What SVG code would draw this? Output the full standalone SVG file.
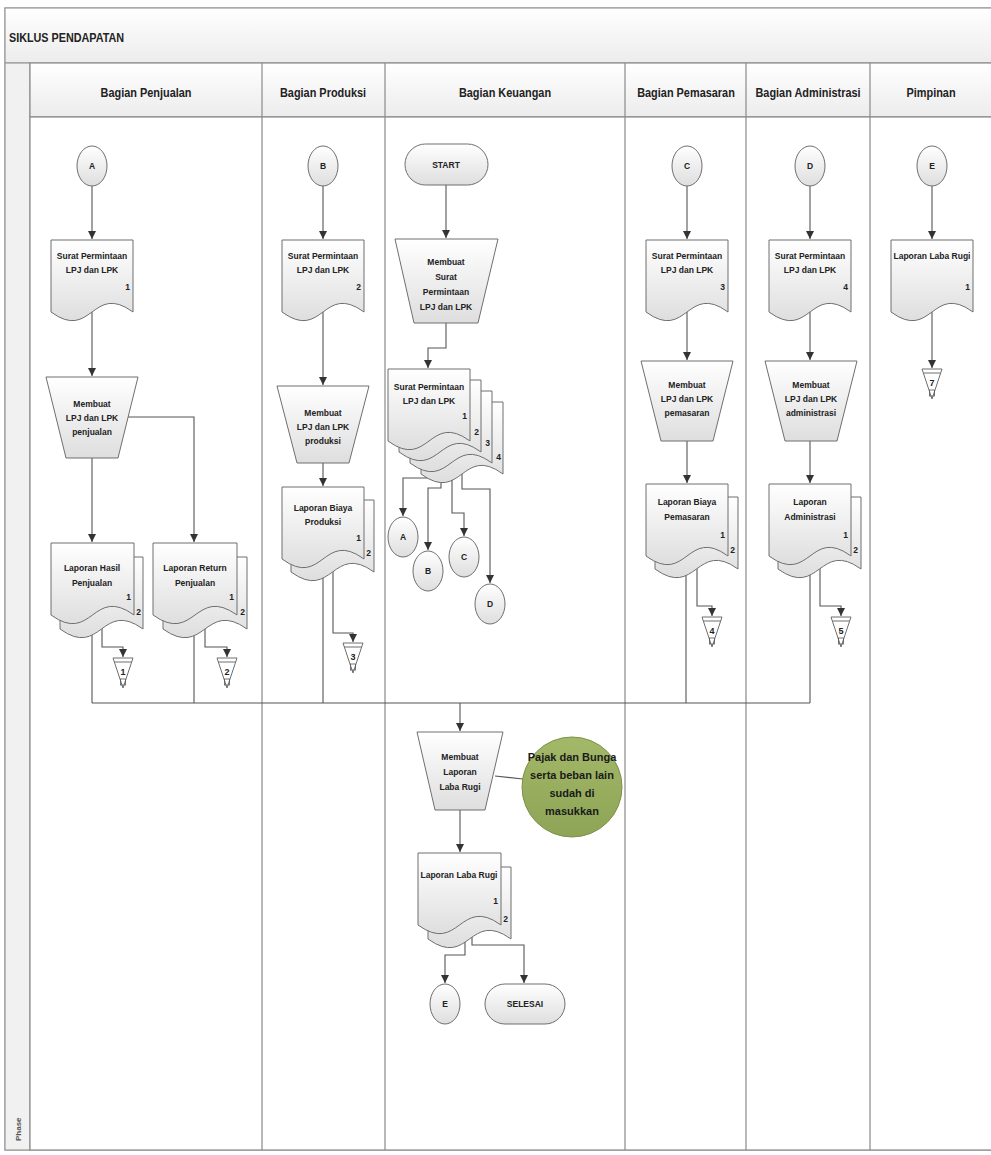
<svg xmlns="http://www.w3.org/2000/svg" width="991" height="1155" viewBox="0 0 991 1155">
<defs>
<linearGradient id="gShape" x1="0" y1="0" x2="0" y2="1"><stop offset="0" stop-color="#ffffff"/><stop offset="1" stop-color="#dedede"/></linearGradient>
<linearGradient id="gHead" x1="0" y1="0" x2="0" y2="1"><stop offset="0" stop-color="#ffffff"/><stop offset="1" stop-color="#ececec"/></linearGradient>
<linearGradient id="gGreen" x1="0" y1="0" x2="0" y2="1"><stop offset="0" stop-color="#a3b868"/><stop offset="1" stop-color="#8ea456"/></linearGradient>
<marker id="arr" markerUnits="userSpaceOnUse" markerWidth="9" markerHeight="9" refX="8" refY="4" orient="auto"><path d="M0,0 L8,4 L0,8 Z" fill="#333"/></marker>
<style>
.sh{fill:url(#gShape);stroke:#6f6f6f;stroke-width:1}
.cn{fill:none;stroke:#555;stroke-width:1.1}
.ar{marker-end:url(#arr)}
.lane{stroke:#8a8a8a;stroke-width:1.2;fill:none}
text{font-family:"Liberation Sans Narrow","Liberation Sans",Arial,sans-serif;font-weight:bold;fill:#222}
.t{font-size:8.5px;text-anchor:middle}
.n{font-size:8.5px;text-anchor:end}
.h{font-size:13px;text-anchor:middle}
.g{font-size:11px;text-anchor:middle;fill:#1a1a1a}
.st{stroke:#6f6f6f;stroke-width:1;fill:#fff}
</style>
</defs>
<rect x="0" y="0" width="991" height="1155" fill="#ffffff"/>
<g id="frame">
<rect x="5" y="8" width="990" height="1142" fill="#fafafa" stroke="#9a9a9a" stroke-width="1.2"/>
<rect x="5" y="8" width="990" height="55" fill="url(#gHead)" stroke="#9a9a9a" stroke-width="1.2"/>
<text transform="translate(9,42) scale(0.9,1)" style="font-size:12px">SIKLUS PENDAPATAN</text>
<rect x="5" y="63" width="25" height="1087" fill="#f1f1f1" stroke="#9a9a9a" stroke-width="1.2"/>
<text transform="translate(21,1141) rotate(-90)" style="font-size:8px;fill:#555">Phase</text>
<rect x="30" y="63" width="965" height="54" fill="url(#gHead)" stroke="#8a8a8a" stroke-width="1.2"/>
<rect x="30" y="117" width="965" height="1033" fill="#ffffff" stroke="#8a8a8a" stroke-width="1.2"/>
<path class="lane" d="M262,63 V1150 M385,63 V1150 M625,63 V1150 M746,63 V1150 M870,63 V1150"/>
<text class="h" transform="translate(146,97) scale(0.84,1)">Bagian Penjualan</text>
<text class="h" transform="translate(323,97) scale(0.84,1)">Bagian Produksi</text>
<text class="h" transform="translate(505,97) scale(0.84,1)">Bagian Keuangan</text>
<text class="h" transform="translate(686,97) scale(0.84,1)">Bagian Pemasaran</text>
<text class="h" transform="translate(808,97) scale(0.84,1)">Bagian Administrasi</text>
<text class="h" transform="translate(931,97) scale(0.84,1)">Pimpinan</text>
</g>

<g id="connectors">
<path class="cn ar" d="M92,186 V239"/>
<path class="cn ar" d="M92,312 V376"/>
<path class="cn ar" d="M128,417 H194 V542"/>
<path class="cn ar" d="M92,458 V542"/>
<path class="cn ar" d="M102,625 V647 H123 V657"/>
<path class="cn ar" d="M205,625 V647 H227 V657"/>
<path class="cn" d="M92,615 V703 M194,615 V703 M323,559 V703 M686,556 V703 M810,556 V703 M92,703 H810"/>
<path class="cn ar" d="M323,186 V239"/>
<path class="cn ar" d="M323,312 V385"/>
<path class="cn ar" d="M323,463 V486"/>
<path class="cn ar" d="M333,570 V633 H353 V642"/>
<path class="cn ar" d="M446,185 V238"/>
<path class="cn ar" d="M446,323 V348 H428 V368"/>
<path class="cn ar" d="M428,447 V478 H403 V516"/>
<path class="cn ar" d="M441,447 V488 H428 V550"/>
<path class="cn ar" d="M452,447 V513 H464 V536"/>
<path class="cn ar" d="M462,447 V489 H490 V583"/>
<path class="cn ar" d="M460,703 V731"/>
<path class="cn" d="M495,776 L523,779"/>
<path class="cn ar" d="M460,810 V852"/>
<path class="cn ar" d="M465,932 V955 H445 V983"/>
<path class="cn ar" d="M472,932 V945 H524 V983"/>
<path class="cn ar" d="M687,186 V239"/>
<path class="cn ar" d="M687,312 V360"/>
<path class="cn ar" d="M687,441 V483"/>
<path class="cn ar" d="M697,566 V606 H712 V616"/>
<path class="cn ar" d="M810,186 V239"/>
<path class="cn ar" d="M810,312 V360"/>
<path class="cn ar" d="M810,441 V483"/>
<path class="cn ar" d="M820,566 V606 H841 V616"/>
<path class="cn ar" d="M932,186 V239"/>
<path class="cn ar" d="M932,312 V368"/>
</g>

<!-- Penjualan -->
<g id="pj-A"><ellipse class="sh" cx="92" cy="166" rx="15" ry="20"/><text class="t" x="92" y="169">A</text></g>
<g id="pj-spm"><path class="sh" d="M51,240 H133 V312 C92,282 92,342 51,312 Z"/><text class="t" x="92" y="259">Surat Permintaan</text><text class="t" x="92" y="273">LPJ dan LPK</text><text class="n" x="130" y="290">1</text></g>
<g id="pj-proc"><path class="sh" d="M46,377 H138 L118,458 H66 Z"/><text class="t" x="92" y="407">Membuat</text><text class="t" x="92" y="421">LPJ dan LPK</text><text class="t" x="92" y="435">penjualan</text></g>
<g id="pj-lhp"><path class="sh" d="M60,557 H143 V629 C101.5,599 101.5,659 60,629 Z"/><path class="sh" d="M51,543 H134 V615 C92.5,585 92.5,645 51,615 Z"/><text class="t" x="92" y="571">Laporan Hasil</text><text class="t" x="92" y="586">Penjualan</text><text class="n" x="131" y="600">1</text><text class="n" x="141" y="615">2</text></g>
<g id="pj-lrp"><path class="sh" d="M163,557 H247 V629 C205,599 205,659 163,629 Z"/><path class="sh" d="M153,543 H237 V615 C195,585 195,645 153,615 Z"/><text class="t" x="195" y="571">Laporan Return</text><text class="t" x="195" y="586">Penjualan</text><text class="n" x="234" y="600">1</text><text class="n" x="245" y="615">2</text></g>
<g id="pj-f1"><path class="st" d="M113,658 H133 L123,688 Z M114.3,662 H131.7"/><text class="t" x="123" y="675" style="font-size:9px">1</text><rect x="120.5" y="679" width="5" height="6" fill="none" stroke="#555" stroke-width="0.8"/></g>
<g id="pj-f2"><path class="st" d="M217,658 H237 L227,688 Z M218.3,662 H235.7"/><text class="t" x="227" y="675" style="font-size:9px">2</text><rect x="224.5" y="679" width="5" height="6" fill="none" stroke="#555" stroke-width="0.8"/></g>

<!-- Produksi -->
<g id="pr-B"><ellipse class="sh" cx="323" cy="166" rx="15" ry="20"/><text class="t" x="323" y="169">B</text></g>
<g id="pr-spm"><path class="sh" d="M282,240 H364 V312 C323,282 323,342 282,312 Z"/><text class="t" x="323" y="259">Surat Permintaan</text><text class="t" x="323" y="273">LPJ dan LPK</text><text class="n" x="361" y="290">2</text></g>
<g id="pr-proc"><path class="sh" d="M277,386 H369 L349,463 H297 Z"/><text class="t" x="323" y="416">Membuat</text><text class="t" x="323" y="430">LPJ dan LPK</text><text class="t" x="323" y="444">produksi</text></g>
<g id="pr-lbp"><path class="sh" d="M291,500 H374 V572 C332.5,542 332.5,602 291,572 Z"/><path class="sh" d="M282,487 H364 V559 C323,529 323,589 282,559 Z"/><text class="t" x="323" y="511">Laporan Biaya</text><text class="t" x="323" y="525">Produksi</text><text class="n" x="361" y="541">1</text><text class="n" x="371" y="556">2</text></g>
<g id="pr-f3"><path class="st" d="M343,643 H363 L353,673 Z M344.3,647 H361.7"/><text class="t" x="353" y="660" style="font-size:9px">3</text><rect x="350.5" y="664" width="5" height="6" fill="none" stroke="#555" stroke-width="0.8"/></g>

<!-- Keuangan -->
<g id="ku-start"><rect class="sh" x="405" y="144" width="83" height="41" rx="20.5"/><text class="t" x="446" y="168">START</text></g>
<g id="ku-proc1"><path class="sh" d="M395,239 H498 L478,323 H414 Z"/><text class="t" x="446" y="265">Membuat</text><text class="t" x="446" y="280">Surat</text><text class="t" x="446" y="295">Permintaan</text><text class="t" x="446" y="310">LPJ dan LPK</text></g>
<g id="ku-spm"><path class="sh" d="M421,402 H503 V474 C462,444 462,504 421,474 Z"/><path class="sh" d="M410,391 H492 V463 C451,433 451,493 410,463 Z"/><path class="sh" d="M399,380 H481 V452 C440,422 440,482 399,452 Z"/><path class="sh" d="M388,369 H470 V441 C429,411 429,471 388,441 Z"/><text class="t" x="429" y="390">Surat Permintaan</text><text class="t" x="429" y="404">LPJ dan LPK</text><text class="n" x="467" y="419">1</text><text class="n" x="479" y="435">2</text><text class="n" x="490" y="446">3</text><text class="n" x="501" y="460">4</text></g>
<g id="ku-A"><ellipse class="sh" cx="403" cy="537" rx="15" ry="20"/><text class="t" x="403" y="540">A</text></g>
<g id="ku-B"><ellipse class="sh" cx="428" cy="571" rx="15" ry="20"/><text class="t" x="428" y="574">B</text></g>
<g id="ku-C"><ellipse class="sh" cx="464" cy="557" rx="15" ry="20"/><text class="t" x="464" y="560">C</text></g>
<g id="ku-D"><ellipse class="sh" cx="490" cy="604" rx="15" ry="20"/><text class="t" x="490" y="607">D</text></g>
<g id="ku-proc2"><path class="sh" d="M417,732 H503 L485,810 H435 Z"/><text class="t" x="460" y="760">Membuat</text><text class="t" x="460" y="775">Laporan</text><text class="t" x="460" y="790">Laba Rugi</text></g>
<g id="ku-note"><circle cx="572" cy="787" r="50" fill="url(#gGreen)" stroke="#7d9148" stroke-width="1"/><text class="g" x="572" y="761">Pajak dan Bunga</text><text class="g" x="572" y="779">serta beban lain</text><text class="g" x="572" y="797">sudah di</text><text class="g" x="572" y="815">masukkan</text></g>
<g id="ku-llr"><path class="sh" d="M428,867 H511 V939 C469.5,909 469.5,969 428,939 Z"/><path class="sh" d="M418,853 H501 V925 C459.5,895 459.5,955 418,925 Z"/><text class="t" x="459" y="878">Laporan Laba Rugi</text><text class="n" x="498" y="904">1</text><text class="n" x="508" y="922">2</text></g>
<g id="ku-E"><ellipse class="sh" cx="445" cy="1004" rx="15" ry="20"/><text class="t" x="445" y="1007">E</text></g>
<g id="ku-end"><rect class="sh" x="485" y="984" width="80" height="40" rx="20"/><text class="t" x="525" y="1007">SELESAI</text></g>

<!-- Pemasaran -->
<g id="pm-C"><ellipse class="sh" cx="687" cy="166" rx="15" ry="20"/><text class="t" x="687" y="169">C</text></g>
<g id="pm-spm"><path class="sh" d="M646,240 H728 V312 C687,282 687,342 646,312 Z"/><text class="t" x="687" y="259">Surat Permintaan</text><text class="t" x="687" y="273">LPJ dan LPK</text><text class="n" x="725" y="290">3</text></g>
<g id="pm-proc"><path class="sh" d="M641,361 H733 L713,441 H661 Z"/><text class="t" x="687" y="388">Membuat</text><text class="t" x="687" y="402">LPJ dan LPK</text><text class="t" x="687" y="416">pemasaran</text></g>
<g id="pm-lbp"><path class="sh" d="M655,497 H738 V569 C696.5,539 696.5,599 655,569 Z"/><path class="sh" d="M646,484 H728 V556 C687,526 687,586 646,556 Z"/><text class="t" x="687" y="505">Laporan Biaya</text><text class="t" x="687" y="520">Pemasaran</text><text class="n" x="725" y="538">1</text><text class="n" x="735" y="553">2</text></g>
<g id="pm-f4"><path class="st" d="M702,617 H722 L712,647 Z M703.3,621 H720.7"/><text class="t" x="712" y="634" style="font-size:9px">4</text><rect x="709.5" y="638" width="5" height="6" fill="none" stroke="#555" stroke-width="0.8"/></g>

<!-- Administrasi -->
<g id="ad-D"><ellipse class="sh" cx="810" cy="166" rx="15" ry="20"/><text class="t" x="810" y="169">D</text></g>
<g id="ad-spm"><path class="sh" d="M769,240 H851 V312 C810,282 810,342 769,312 Z"/><text class="t" x="810" y="259">Surat Permintaan</text><text class="t" x="810" y="273">LPJ dan LPK</text><text class="n" x="848" y="290">4</text></g>
<g id="ad-proc"><path class="sh" d="M765,361 H857 L837,441 H785 Z"/><text class="t" x="811" y="388">Membuat</text><text class="t" x="811" y="402">LPJ dan LPK</text><text class="t" x="811" y="416">administrasi</text></g>
<g id="ad-la"><path class="sh" d="M778,497 H861 V569 C819.5,539 819.5,599 778,569 Z"/><path class="sh" d="M769,484 H851 V556 C810,526 810,586 769,556 Z"/><text class="t" x="810" y="505">Laporan</text><text class="t" x="810" y="520">Administrasi</text><text class="n" x="848" y="538">1</text><text class="n" x="858" y="553">2</text></g>
<g id="ad-f5"><path class="st" d="M831,617 H851 L841,647 Z M832.3,621 H849.7"/><text class="t" x="841" y="634" style="font-size:9px">5</text><rect x="838.5" y="638" width="5" height="6" fill="none" stroke="#555" stroke-width="0.8"/></g>

<!-- Pimpinan -->
<g id="pi-E"><ellipse class="sh" cx="932" cy="166" rx="15" ry="20"/><text class="t" x="932" y="169">E</text></g>
<g id="pi-llr"><path class="sh" d="M891,240 H973 V312 C932,282 932,342 891,312 Z"/><text class="t" x="932" y="259">Laporan Laba Rugi</text><text class="n" x="970" y="290">1</text></g>
<g id="pi-f7"><path class="st" d="M922,369 H942 L932,399 Z M923.3,373 H940.7"/><text class="t" x="932" y="386" style="font-size:9px">7</text><rect x="929.5" y="390" width="5" height="6" fill="none" stroke="#555" stroke-width="0.8"/></g>
</svg>
